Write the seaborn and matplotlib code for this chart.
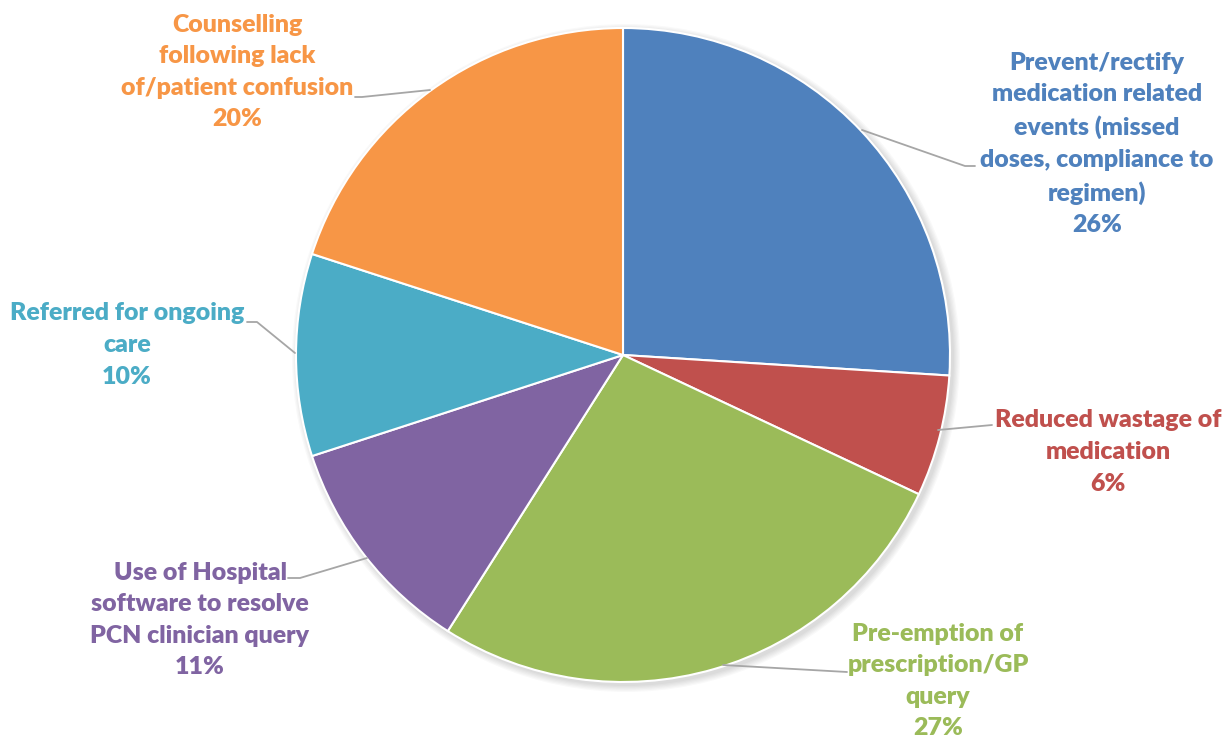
import matplotlib
matplotlib.use("Agg")
import matplotlib.pyplot as plt
import seaborn as sns

categories = [
    "Prevent/rectify\nmedication related\nevents (missed\ndoses, compliance to\nregimen)",
    "Reduced wastage of\nmedication",
    "Pre-emption of\nprescription/GP\nquery",
    "Use of Hospital\nsoftware to resolve\nPCN clinician query",
    "Referred for ongoing\ncare",
    "Counselling\nfollowing lack\nof/patient confusion",
]
values = [26, 6, 27, 11, 10, 20]
colors = ["#4F81BD", "#C0504D", "#9BBB59", "#8064A2", "#4BACC6", "#F79646"]

sns.set_theme(style="white")
plt.rcParams["font.family"] = ["Lato", "DejaVu Sans"]

W, H = 1223, 738
fig = plt.figure(figsize=(W / 100, H / 100), dpi=100)
ax = fig.add_axes([0, 0, 1, 1])

cx, cy, r = 623, H - 355, 327

# subtle shadow
for i in range(6):
    circ = plt.Circle((cx + 3, cy - 3), r + 1 + i * 1.2, color="black", alpha=0.025, lw=0, zorder=0)
    ax.add_patch(circ)

ax.pie(values, colors=colors, startangle=90, counterclock=False, center=(cx, cy), radius=r,
       wedgeprops=dict(edgecolor="white", linewidth=1.5), frame=True)
ax.set_xlim(0, W)
ax.set_ylim(0, H)
ax.set_aspect("equal")
ax.axis("off")

# label positions (pixel coords, top-origin) and leader lines
label_pos = [(1097, 144), (1108, 452), (938, 681), (200, 620), (127, 345), (237, 72)]
leaders = [
    [(862, 130), (965, 166), (975, 166)],
    [(938, 430), (992, 425)],
    [(723, 665), (847, 672)],
    [(367, 558), (300, 578), (288, 578)],
    [(295, 353), (257, 322), (247, 322)],
    [(430, 90), (362, 97), (355, 97)],
]

for cat, v, col, (lx, ly), pts in zip(categories, values, colors, label_pos, leaders):
    ax.text(lx, H - ly, f"{cat}\n{v}%", color=col, fontsize=17.9, fontweight="heavy",
            ha="center", va="center", linespacing=1.53)
    xs = [p[0] for p in pts]
    ys = [H - p[1] for p in pts]
    ax.plot(xs, ys, color="#A6A6A6", lw=1.3, zorder=5)

fig.savefig("out.png", dpi=100, facecolor="white")
